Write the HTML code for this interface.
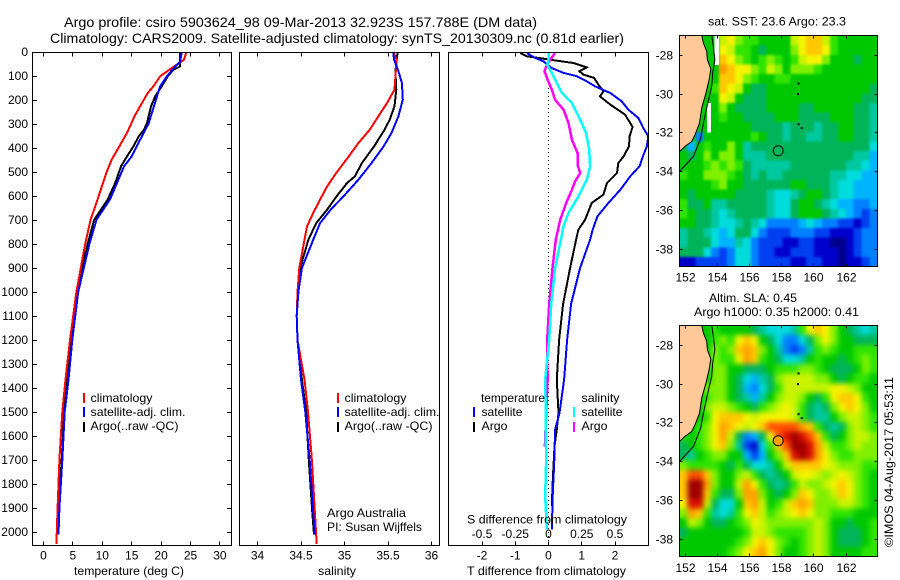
<!DOCTYPE html>
<html>
<head>
<meta charset="utf-8">
<title>Argo profile</title>
<style>
html,body{margin:0;padding:0;background:#fff;}
svg{display:block;font-family:"Liberation Sans",sans-serif;font-size:12px;fill:#000;}
.t{font-size:14px;}
</style>
</head>
<body>
<svg id="chart" xmlns="http://www.w3.org/2000/svg" width="900" height="580" viewBox="0 0 900 580">
<rect x="0" y="0" width="900" height="580" fill="#fff"/>
<defs>
<clipPath id="clip-diff"><rect x="448.5" y="52.5" width="200" height="493"/></clipPath>
<clipPath id="clip-map1"><rect x="679.5" y="35.5" width="198" height="231"/></clipPath>
<clipPath id="clip-map2"><rect x="679.5" y="325.5" width="198" height="231"/></clipPath>
<filter id="soft-sst" color-interpolation-filters="sRGB" x="-5%" y="-5%" width="110%" height="110%"><feGaussianBlur stdDeviation="1.2"/></filter>
<filter id="soft-sla" color-interpolation-filters="sRGB" x="-5%" y="-5%" width="110%" height="110%"><feGaussianBlur stdDeviation="2.6"/></filter>
</defs>
<text class="t" x="64" y="27" textLength="473" lengthAdjust="spacingAndGlyphs">Argo profile: csiro 5903624_98 09-Mar-2013 32.923S 157.788E (DM data)</text>
<text class="t" x="50" y="43" textLength="574" lengthAdjust="spacingAndGlyphs">Climatology: CARS2009. Satellite-adjusted climatology: synTS_20130309.nc (0.81d earlier)</text>
<text x="708" y="25.5" textLength="138" lengthAdjust="spacingAndGlyphs">sat. SST: 23.6 Argo: 23.3</text>
<text x="709" y="302" textLength="88" lengthAdjust="spacingAndGlyphs">Altim. SLA: 0.45</text>
<text x="694" y="316" textLength="165" lengthAdjust="spacingAndGlyphs">Argo h1000: 0.35 h2000: 0.41</text>
<g id="layer"></g>
<text x="74" y="575" textLength="110" lengthAdjust="spacingAndGlyphs">temperature (deg C)</text>
<text x="318" y="575" textLength="38" lengthAdjust="spacingAndGlyphs">salinity</text>
<text x="467" y="575" textLength="159" lengthAdjust="spacingAndGlyphs">T difference from climatology</text>
<text x="467" y="523.5" textLength="160" lengthAdjust="spacingAndGlyphs">S difference from climatology</text>

<g>
<rect x="83" y="393" width="2" height="10" fill="#f00"/>
<text x="90.5" y="402" textLength="62" lengthAdjust="spacingAndGlyphs">climatology</text>
<rect x="83" y="407" width="2" height="10" fill="#00f"/>
<text x="90.5" y="416" textLength="95" lengthAdjust="spacingAndGlyphs">satellite-adj. clim.</text>
<rect x="83" y="422" width="2" height="10" fill="#000"/>
<text x="90.5" y="430" textLength="88" lengthAdjust="spacingAndGlyphs">Argo(..raw -QC)</text>
</g>
<g>
<rect x="337" y="393" width="2" height="10" fill="#f00"/>
<text x="344.5" y="402" textLength="62" lengthAdjust="spacingAndGlyphs">climatology</text>
<rect x="337" y="407" width="2" height="10" fill="#00f"/>
<text x="344.5" y="416" textLength="95" lengthAdjust="spacingAndGlyphs">satellite-adj. clim.</text>
<rect x="337" y="422" width="2" height="10" fill="#000"/>
<text x="344.5" y="430" textLength="88" lengthAdjust="spacingAndGlyphs">Argo(..raw -QC)</text>
</g>
<text x="327" y="517" textLength="79" lengthAdjust="spacingAndGlyphs">Argo Australia</text>
<text x="327" y="531" textLength="95" lengthAdjust="spacingAndGlyphs">PI: Susan Wijffels</text>

<g>
<text x="481" y="402" textLength="64" lengthAdjust="spacingAndGlyphs">temperature</text>
<rect x="473" y="407" width="2" height="10" fill="#00f"/>
<text x="481.5" y="416" textLength="41" lengthAdjust="spacingAndGlyphs">satellite</text>
<rect x="473" y="422" width="2" height="10" fill="#000"/>
<text x="481.5" y="430" textLength="26" lengthAdjust="spacingAndGlyphs">Argo</text>
<text x="581.5" y="402" textLength="38" lengthAdjust="spacingAndGlyphs">salinity</text>
<rect x="573" y="407" width="2" height="10" fill="#0ff"/>
<text x="581.5" y="416" textLength="41" lengthAdjust="spacingAndGlyphs">satellite</text>
<rect x="573" y="422" width="2" height="10" fill="#f0f"/>
<text x="581.5" y="430" textLength="26" lengthAdjust="spacingAndGlyphs">Argo</text>
</g>
<text transform="translate(893,547) rotate(-90)" textLength="170" lengthAdjust="spacingAndGlyphs">©IMOS 04-Aug-2017 05:53:11</text>
</svg>
<script>
// ---- axis tick values ----
var depthTicks = [0,100,200,300,400,500,600,700,800,900,1000,1100,1200,1300,1400,1500,1600,1700,1800,1900,2000];
var tempTicks = [0,5,10,15,20,25,30];
var salTicks = [34,34.5,35,35.5,36];
var tDiffTicks = [-2,-1,0,1,2];
var sDiffTicks = [-0.5,-0.25,0,0.25,0.5];
var lonTicks = [152,154,156,158,160,162];
var latTicks = [28,30,32,34,36,38];

// ---- temperature profiles ----
var tempClimDepth = [0,32,67,101,143,170,198,267,337,406,448,503,614,700,800,1000,1200,1365,1500,1700,1900,2050];
var tempClim = [24.3,23.9,21.8,19.85,18.7,17.75,17.1,15.5,14.2,12.6,11.6,10.7,9.2,8,7.1,5.6,4.5,3.75,3.2,2.7,2.4,2.2];
var tempArgoDepth = [0,60,74,101,143,185,226,296,324,351,393,435,476,546,615,700,800,1000,1200,1365,1500,1700,1900,2010];
var tempArgo = [23.25,23.25,22.1,21.15,20.1,19,18.3,17.6,17.1,16.2,15.3,14.2,13.2,12.2,10.9,8.6,7.5,5.7,4.7,4,3.5,3.1,2.6,2.5];
var tempSatDepth = [0,39,60,101,143,185,240,296,365,435,476,546,615,700,800,1000,1200,1365,1500,1700,1900,2010];
var tempSat = [23.5,23.25,22.4,21,19.85,19.3,18.6,17.9,16.45,15,13.7,12.5,11.3,9,7.8,5.9,4.9,4.25,3.6,3.2,2.7,2.55];

// ---- salinity profiles ----
var salClimDepth = [0,32,80,157,212,268,324,379,435,504,560,615,671,726,782,900,1000,1100,1200,1365,1500,1700,1920,2050];
var salClim = [35.56,35.6,35.59,35.575,35.49,35.39,35.29,35.16,35.05,34.905,34.8,34.72,34.64,34.57,34.54,34.48,34.46,34.45,34.46,34.54,34.58,34.625,34.66,34.68];
var salArgoDepth = [0,80,157,226,282,324,393,463,518,546,601,657,713,782,900,1000,1100,1200,1365,1500,1700,1920,2010];
var salArgo = [35.61,35.585,35.595,35.575,35.52,35.46,35.34,35.2,35.12,35.03,34.91,34.8,34.675,34.585,34.49,34.46,34.45,34.46,34.51,34.56,34.59,34.63,34.65];
var salSatDepth = [0,32,80,129,199,268,337,393,463,532,601,657,713,782,900,1000,1100,1200,1365,1500,1700,1920,2010];
var salSat = [35.56,35.57,35.62,35.66,35.67,35.62,35.54,35.45,35.31,35.16,34.99,34.84,34.72,34.64,34.51,34.47,34.45,34.46,34.5,34.55,34.6,34.64,34.66];

// ---- differences from climatology ----
var dTSatDepth = [4,25,39,67,87,101,122,143,171,205,240,275,317,351,393,435,476,518,574,629,685,740,782,900,1050,1200,1365,1504,1573,1712,1837,1990];
var dTSat = [-0.65,-0.4,-0.15,0.1,0.45,0.85,1.15,1.4,1.86,2.2,2.4,2.7,2.85,3,2.96,2.84,2.74,2.46,2.16,1.8,1.47,1.33,1.25,0.95,0.68,0.56,0.47,0.33,0.2,0.17,0.13,0.1];
var dTArgoDepth = [4,18,32,46,64,80,94,108,136,164,185,219,261,312,351,393,435,463,504,546,594,629,699,740,782,900,1050,1200,1365,1504,1573,1643,1782,1892];
var dTArgo = [-0.85,-0.65,0.05,0.75,1.15,0.93,1.05,1.37,1.5,1.65,1.55,1.86,2.3,2.53,2.44,2.42,2.26,2.1,2.06,1.76,1.65,1.3,1.1,0.9,0.83,0.65,0.44,0.32,0.25,0.3,0.25,0.18,0.13,0.1];
var dSArgoDepth = [4,32,53,80,115,157,199,240,296,365,421,469,504,539,574,629,699,782,900,1050,1200,1365,1504,1643];
var dSArgo = [0.05,0.013,-0.012,-0.03,-0.007,0.025,0.05,0.113,0.15,0.176,0.218,0.218,0.238,0.2,0.176,0.133,0.088,0.055,0.03,0.005,-0.01,-0.007,-0.017,-0.027];
var dSSatDepth = [4,32,53,87,129,171,212,268,337,407,476,532,601,671,726,782,900,1050,1200,1365,1504,1712,1851,1990];
var dSSat = [0,0,-0.01,0.025,0.063,0.1,0.176,0.226,0.283,0.306,0.313,0.289,0.226,0.15,0.113,0.093,0.05,0.02,0.005,-0.025,-0.02,-0.018,-0.025,-0.012];

// ---- map colour levels and gridded fields (one character per cell) ----
var levelKeys = "0123456789abcdefgh";
var levelColors = ["#00008c","#0000cc","#0040f0","#0080ff","#00b4ff","#00dcdc","#00c8a0","#00b45a","#00c800","#30e400","#80f000","#c8f400","#f4f400","#ffc800","#ffa000","#ff5000","#d81000","#a00000"];
var sstRows = [
"8888wbca998888bcddb988888",
"8888wcb9987888acddc988888",
"8888wdca989a989bcca888788",
"88888edcca9ba8aaa98888888",
"88898ddca9889988888888888",
"88889dcb87788888888888887",
"88888cb877788888888888877",
"888w8a8777788887788888776",
"888w898877778887777888776",
"888w888887777677767788776",
"8838888889877677667788776",
"748988a867777777777777775",
"878a8aa866677777777777664",
"8889a9a976666677777776654",
"988aaa9876766777777665544",
"88889a8877777788777655444",
"8788888777765567887655444",
"9778667777765578876544334",
"9877656777765578887654323",
"8877655676533334543322123",
"6776545775322233322111233",
"6777544653222112211001233",
"7775323553221122211101233",
"1122223553222211221101123"
];
var slaRows = [
"8888988887655569cdca87656",
"88889a9cdc8753357aca88777",
"8888a9adeda8632369a988999",
"8888a99ced9875568988789a9",
"8888aa887778999aa987778a9",
"8888aa875467abbbbaa878998",
"888aaa8743579bbbbbbccba88",
"8889aa876468abba879cddc98",
"888abba9879abcb9767acdca8",
"8889cdddcbccccb97668abba9",
"889acedcbcdffffed9767aba9",
"989aceb7347cfghgfd978abba",
"789acda62159dfhhgeb99abaa",
"7689aa884248adghgeca99aaa",
"a999987975568bddddcbaaa99",
"dffda88ab97678bccbabcba98",
"dhhea88bec97679baabcdca98",
"dhhd977aeea878adcaabdca98",
"cggb7558deb89bdedaaabba98",
"aed96569cdb9abcdcaa999888",
"8ba87789acbaaaaaaba887889",
"788888889bba9999aba877789",
"88888889acdca989aba877789",
"8888889acdeca889aba888899"
];

// ---- geography (lon / south lat) ----
var coastLon = [151.65,153.04,153.14,153.35,153.39,153.6,153.5,153.3,153.04,152.9,152.62,152.41,152,151.65];
var coastLat = [26.95,26.95,27.36,27.8,28.22,28.7,29.26,29.95,30.72,31.5,32.1,32.45,32.7,32.97];
var contourLon = [153.66,153.76,153.86,153.72,153.66,153.39,153.14,152.97,152.52,151.65];
var contourLat = [26.95,27.53,28.22,28.91,29.6,30.55,31.5,32.28,33.22,34];
var islandLon = [159.05,159.02,159.05,159.25];
var islandLat = [29.45,30,31.55,31.75];
var profileLon = 157.788;
var profileLat = 32.923;

// ---- scales ----
var NS = "http://www.w3.org/2000/svg";
var layer = document.getElementById("layer");
function yDepth(d){ return 52 + 0.24*d; }
function xTemp(v){ return 43.5 + 5.88*v; }
function xSal(v){ return 257.5 + 87*(v-34); }
function xDT(v){ return 548.5 + 33.25*v; }
function xDS(v){ return 548.5 + 133*v; }
function xLon(v){ return 685 + 16.1*(v-152); }
function yLat(top){ return function(v){ return top + 20.4 + 19.37*(v-28); }; }

function seg(x1,y1,x2,y2){
  var l = document.createElementNS(NS,"line");
  
  
  l.setAttribute("x1",x1); l.setAttribute("y1",y1);
  l.setAttribute("x2",x2); l.setAttribute("y2",y2);
  l.setAttribute("stroke","#000");
  l.setAttribute("shape-rendering","crispEdges");
  layer.appendChild(l);
}
function label(str,x,y,anchor){
  var t = document.createElementNS(NS,"text");
  
  
  t.setAttribute("x",x); t.setAttribute("y",y);
  t.setAttribute("text-anchor",anchor);
  t.textContent = str;
  layer.appendChild(t);
}
function frame(x,y,w,h){
  var r = document.createElementNS(NS,"rect");
  
  
  r.setAttribute("x",x); r.setAttribute("y",y);
  r.setAttribute("width",w); r.setAttribute("height",h);
  r.setAttribute("fill","none");
  r.setAttribute("stroke","#000");
  r.setAttribute("shape-rendering","crispEdges");
  layer.appendChild(r);
}
function series(depths,values,xf,color,width,name,clip){
  var pts = [];
  for(var i=0;i<depths.length;i++){ pts.push(xf(values[i]).toFixed(1)+","+yDepth(depths[i]).toFixed(1)); }
  var p = document.createElementNS(NS,"polyline");
  
  
  p.setAttribute("points",pts.join(" "));
  p.setAttribute("fill","none");
  p.setAttribute("stroke",color);
  p.setAttribute("stroke-width",width);
  p.setAttribute("shape-rendering","crispEdges");
  if(clip){ p.setAttribute("clip-path","url(#"+clip+")"); }
  layer.appendChild(p);
}

// ---- profile panels ----
var L=52.5, B=545.5;
function xTicksBoth(ticks,xf){
  for(var i=0;i<ticks.length;i++){
    var x=Math.floor(xf(ticks[i]))+0.5;
    seg(x,L,x,L+4); seg(x,B,x,B-4);
  }
}
for(var i=0;i<depthTicks.length;i++){
  var yy=Math.floor(yDepth(depthTicks[i]))+0.5;
  seg(32.5,yy,37,yy); seg(231.5,yy,227,yy);
  label(String(depthTicks[i]),28,yy+3.5,"end");
}
xTicksBoth(tempTicks,xTemp);
for(i=0;i<tempTicks.length;i++){ label(String(tempTicks[i]),xTemp(tempTicks[i]),559.5,"middle"); }
xTicksBoth(salTicks,xSal);
for(i=0;i<salTicks.length;i++){ label(String(salTicks[i]),xSal(salTicks[i]),559.5,"middle"); }
xTicksBoth(tDiffTicks,xDT);
for(i=0;i<tDiffTicks.length;i++){ label(String(tDiffTicks[i]),xDT(tDiffTicks[i]),559.5,"middle"); }
for(i=0;i<sDiffTicks.length;i++){ label(String(sDiffTicks[i]),xDS(sDiffTicks[i]),538,"middle"); }

series(tempArgoDepth,tempArgo,xTemp,"#000",2,"temperature-argo-line");
series(tempClimDepth,tempClim,xTemp,"#f00",2,"temperature-climatology-line");
series(tempSatDepth,tempSat,xTemp,"#00f",2,"temperature-satellite-line");
series(salArgoDepth,salArgo,xSal,"#000",2,"salinity-argo-line");
series(salClimDepth,salClim,xSal,"#f00",2,"salinity-climatology-line");
series(salSatDepth,salSat,xSal,"#00f",2,"salinity-satellite-line");

var zero = document.createElementNS(NS,"line");


zero.setAttribute("x1",xDT(0)); zero.setAttribute("x2",xDT(0));
zero.setAttribute("y1",yDepth(150)); zero.setAttribute("y2",B);
zero.setAttribute("stroke","#000");
zero.setAttribute("stroke-dasharray","1 3");
zero.setAttribute("shape-rendering","crispEdges");
layer.appendChild(zero);

series(dTArgoDepth,dTArgo,xDT,"#000",2,"t-diff-argo-line","clip-diff");
series(dTSatDepth,dTSat,xDT,"#00f",2,"t-diff-satellite-line","clip-diff");
series(dSArgoDepth,dSArgo,xDS,"#f0f",2.5,"s-diff-argo-line","clip-diff");
series(dSSatDepth,dSSat,xDS,"#0ff",2.5,"s-diff-satellite-line","clip-diff");

frame(32.5,L,199,493);
frame(239.5,L,200,493);
frame(448.5,L,200,493);

// ---- maps ----
function poly(lons,lats,yf,fill,stroke,clip,name,close){
  var pts=[];
  for(var i=0;i<lons.length;i++){ pts.push(xLon(lons[i]).toFixed(1)+","+yf(lats[i]).toFixed(1)); }
  var p=document.createElementNS(NS,close?"polygon":"polyline");
  
  
  p.setAttribute("points",pts.join(" "));
  p.setAttribute("fill",fill);
  p.setAttribute("stroke",stroke);
  p.setAttribute("clip-path","url(#"+clip+")");
  layer.appendChild(p);
}
function drawMap(rows,top,clip,softFilter,circleFill,labelY){
  var fx=679.5, fw=198, fh=231, cols=25;
  var cw=fw/cols, ch=fh/rows.length, yf=yLat(top);
  var clipGroup=document.createElementNS(NS,"g");
  
  
  clipGroup.setAttribute("clip-path","url(#"+clip+")");
  layer.appendChild(clipGroup);
  var cells=document.createElementNS(NS,"g");
  
  
  clipGroup.appendChild(cells);
  var gaps=[];
  for(var r=0;r<rows.length;r++){
    for(var c=0;c<cols;c++){
      var ch0=rows[r].charAt(c);
      if(ch0==="w"){ gaps.push([r,c]); }
      var idx=levelKeys.indexOf(ch0);
      if(idx<0){ idx=8; }
      var cell=document.createElementNS(NS,"rect");
      
      
      cell.setAttribute("x",(fx+c*cw).toFixed(2));
      cell.setAttribute("y",(top+0.5+r*ch).toFixed(2));
      cell.setAttribute("width",(cw+0.5).toFixed(2));
      cell.setAttribute("height",(ch+0.5).toFixed(2));
      cell.setAttribute("fill",levelColors[idx]);
      cell.setAttribute("shape-rendering","crispEdges");
      cells.appendChild(cell);
    }
  }
  var soft=cells.cloneNode(true);
  
  soft.setAttribute("filter","url(#"+softFilter+")");
  clipGroup.appendChild(soft);
  for(var g=0;g<gaps.length;g++){
    var gap=document.createElementNS(NS,"rect");
    
    
    gap.setAttribute("x",(fx+gaps[g][1]*cw+cw*0.45).toFixed(2));
    gap.setAttribute("y",(top+0.5+gaps[g][0]*ch).toFixed(2));
    gap.setAttribute("width",(cw*0.55).toFixed(2));
    gap.setAttribute("height",(ch+0.5).toFixed(2));
    gap.setAttribute("fill","#fff");
    gap.setAttribute("shape-rendering","crispEdges");
    clipGroup.appendChild(gap);
  }
  poly(coastLon,coastLat,yf,"#ffc896","#000",clip,"land-area",true);
  poly(contourLon,contourLat,yf,"none","#000",clip,"depth-contour",false);
  for(var k=0;k<islandLon.length;k++){
    var isl=document.createElementNS(NS,"rect");
    
    
    isl.setAttribute("x",xLon(islandLon[k])-1);
    isl.setAttribute("y",yf(islandLat[k])-1);
    isl.setAttribute("width",2);
    isl.setAttribute("height",2);
    isl.setAttribute("fill","#000");
    layer.appendChild(isl);
  }
  var circ=document.createElementNS(NS,"circle");
  
  
  circ.setAttribute("cx",xLon(profileLon));
  circ.setAttribute("cy",yf(profileLat));
  circ.setAttribute("r",5);
  circ.setAttribute("fill",circleFill);
  circ.setAttribute("stroke","#000");
  layer.appendChild(circ);
  for(var a=0;a<lonTicks.length;a++){
    var tx=Math.floor(xLon(lonTicks[a]))+0.5;
    seg(tx,top+0.5,tx,top+3.5); seg(tx,top+231.5,tx,top+228.5);
    label(String(lonTicks[a]),tx,labelY,"middle");
  }
  for(var b=0;b<latTicks.length;b++){
    var ty=Math.floor(yf(latTicks[b]))+0.5;
    seg(679.5,ty,682.5,ty); seg(877.5,ty,874.5,ty);
    label("-"+latTicks[b],673,ty+4,"end");
  }
  frame(679.5,top+0.5,198,231);
}
drawMap(sstRows,35,"clip-map1","soft-sst","none",281.5);
drawMap(slaRows,325,"clip-map2","soft-sla","#ffa000",572);
</script>
</body>
</html>
